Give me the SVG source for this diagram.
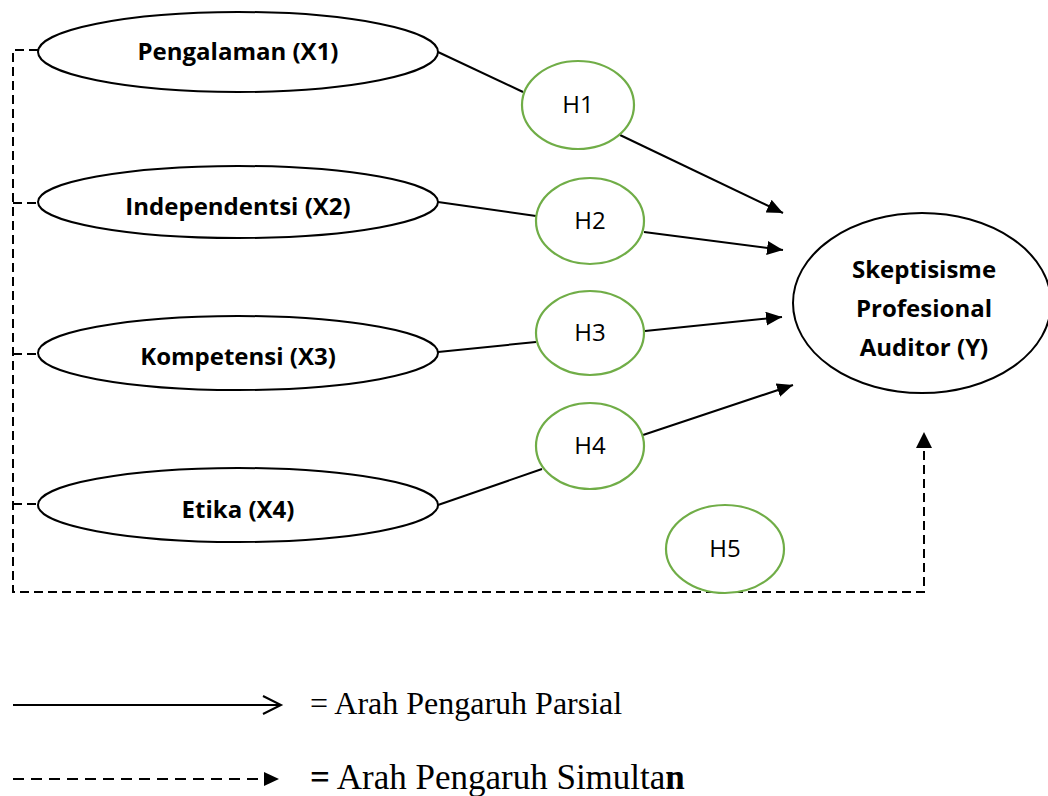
<svg xmlns="http://www.w3.org/2000/svg" width="1048" height="796" viewBox="0 0 1048 796">
<style>
.var{fill:#fff;stroke:#000;stroke-width:2}
.hyp{fill:#fff;stroke:#70AD47;stroke-width:2.2}
.lbl{font-family:"Open Sans","Liberation Sans",sans-serif;font-weight:700;font-size:24px;fill:#000;text-anchor:middle}
.hl{font-family:"Open Sans","Liberation Sans",sans-serif;font-size:24px;fill:#000;text-anchor:middle}
.solid{stroke:#000;stroke-width:2;fill:none}
.dash{stroke:#000;stroke-width:2;fill:none;stroke-dasharray:9 5}
.leg{font-family:"Liberation Serif","Times New Roman",serif;font-size:32px;fill:#000}
.leg2{font-size:35px}
</style>
<defs>
<marker id="ah" markerUnits="userSpaceOnUse" markerWidth="17" markerHeight="14" refX="16" refY="7" orient="auto">
<path d="M0,0 L16,7 L0,14 z" fill="#000"/>
</marker>
</defs>
<g id="connectors">
<line class="solid" x1="438" y1="52" x2="523" y2="92"/>
<line class="solid" x1="620" y1="135" x2="783" y2="213" marker-end="url(#ah)"/>
<line class="solid" x1="438" y1="202" x2="536" y2="216"/>
<line class="solid" x1="644" y1="232" x2="783" y2="250" marker-end="url(#ah)"/>
<line class="solid" x1="438" y1="352" x2="536" y2="342"/>
<line class="solid" x1="645" y1="331" x2="782" y2="317" marker-end="url(#ah)"/>
<line class="solid" x1="438" y1="505" x2="542" y2="469"/>
<line class="solid" x1="643" y1="435" x2="793" y2="385" marker-end="url(#ah)"/>
<path class="dash" d="M38,50 H13 V592 H924 V449"/>
<path d="M924,432 L932,448 L916,448 z" fill="#000"/>
<line class="dash" x1="13" y1="203" x2="38" y2="203"/>
<line class="dash" x1="13" y1="354" x2="38" y2="354"/>
<line class="dash" x1="13" y1="504" x2="38" y2="504"/>
</g>
<g id="X1"><ellipse class="var" cx="238" cy="52" rx="200" ry="40"/><text class="lbl" x="238" y="60">Pengalaman (X1)</text></g>
<g id="X2"><ellipse class="var" cx="238" cy="202" rx="200" ry="36"/><text class="lbl" x="238" y="215">Independentsi (X2)</text></g>
<g id="X3"><ellipse class="var" cx="238" cy="353" rx="200" ry="37"/><text class="lbl" x="238" y="365">Kompetensi (X3)</text></g>
<g id="X4"><ellipse class="var" cx="238" cy="505" rx="200" ry="37"/><text class="lbl" x="238" y="518">Etika (X4)</text></g>
<g id="H1"><ellipse class="hyp" cx="578" cy="105" rx="56" ry="44"/><text class="hl" x="578" y="113">H1</text></g>
<g id="H2"><ellipse class="hyp" cx="590" cy="221" rx="54" ry="43"/><text class="hl" x="590" y="229">H2</text></g>
<g id="H3"><ellipse class="hyp" cx="590" cy="333" rx="54" ry="42"/><text class="hl" x="590" y="341">H3</text></g>
<g id="H4"><ellipse class="hyp" cx="590" cy="446" rx="54" ry="43"/><text class="hl" x="590" y="454">H4</text></g>
<g id="H5"><ellipse class="hyp" cx="725" cy="549" rx="59" ry="44"/><text class="hl" x="725" y="557">H5</text></g>
<g id="Y"><ellipse class="var" cx="922" cy="303" rx="129" ry="90"/>
<text class="lbl" x="924" y="278">Skeptisisme</text>
<text class="lbl" x="924" y="317">Profesional</text>
<text class="lbl" x="924" y="356">Auditor (Y)</text></g>
<g id="legend">
<line class="solid" x1="13" y1="705" x2="280" y2="705"/>
<path class="solid" d="M263,696 L281,705 L263,714"/>
<text class="leg" x="310" y="714">= Arah Pengaruh Parsial</text>
<line class="solid" x1="13" y1="779" x2="266" y2="779" stroke-dasharray="11 7"/>
<path d="M264,772 L279,779 L264,786 z" fill="#000"/>
<text class="leg leg2" x="310" y="789"><tspan font-weight="700">=</tspan> Arah Pengaruh Simulta<tspan font-weight="700">n</tspan></text>
</g>
</svg>
